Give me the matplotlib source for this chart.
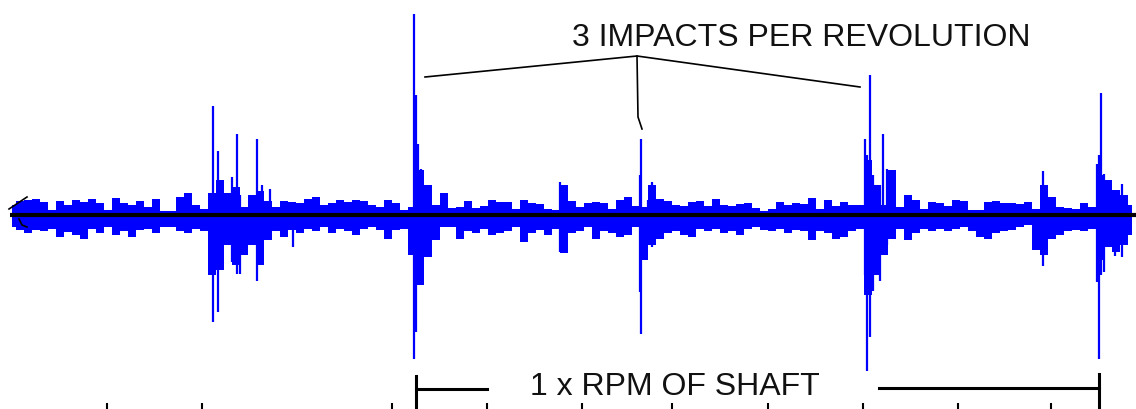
import matplotlib.pyplot as plt
import numpy as np

# waveform envelope, one value every 8 samples starting at sample 12
# (amplitude above / below the zero line)
start = 12
step = 8
env_up = [10, 14, 15, 16, 13, 5, 14, 10, 15, 13, 16, 12, 5, 17, 12, 10, 14, 8,
          16, 4, 4, 18, 22, 10, 6, 22, 35, 22, 28, 8, 20, 24, 14, 8, 14, 13,
          12, 16, 18, 10, 12, 15, 13, 15, 14, 10, 8, 15, 12, 5, 8, 45, 30, 10,
          22, 7, 8, 14, 7, 9, 15, 13, 13, 6, 15, 12, 11, 6, 5, 30, 14, 8, 12,
          13, 12, 6, 15, 18, 9, 8, 30, 16, 14, 10, 9, 13, 14, 9, 16, 10, 9, 11,
          12, 7, 4, 6, 13, 10, 12, 11, 17, 6, 15, 9, 13, 10, 10, 55, 30, 10,
          45, 8, 20, 15, 6, 13, 12, 9, 15, 14, 5, 5, 13, 14, 12, 12, 11, 13, 6,
          30, 18, 8, 7, 6, 12, 8, 40, 35, 25, 20, 10]
env_down = [12, 15, 18, 15, 16, 14, 22, 17, 20, 24, 14, 18, 12, 20, 16, 22, 15,
            14, 18, 12, 12, 16, 18, 14, 16, 60, 55, 30, 50, 40, 30, 50, 25, 16,
            22, 15, 18, 14, 16, 12, 18, 14, 16, 20, 14, 12, 15, 24, 15, 14, 40,
            70, 42, 25, 12, 12, 24, 16, 18, 14, 20, 18, 16, 12, 27, 18, 15, 20,
            14, 38, 18, 16, 12, 24, 16, 18, 22, 20, 12, 45, 30, 24, 18, 16, 20,
            22, 14, 16, 14, 18, 16, 20, 14, 12, 15, 16, 14, 18, 15, 16, 25, 16,
            18, 24, 22, 16, 14, 80, 60, 40, 24, 14, 25, 18, 14, 16, 14, 16, 14,
            12, 16, 22, 24, 18, 16, 15, 12, 10, 35, 40, 24, 20, 16, 15, 16, 14,
            45, 32, 37, 30, 20]

# impact spikes: sample, peak up, peak down
spike_x = [213, 218, 232, 237, 240, 257, 262, 270, 293,
           414, 416, 418, 421, 426, 429, 430, 560,
           640, 641, 648, 652,
           865, 867, 870, 873, 880, 883, 887, 893,
           1043, 1097, 1099, 1101, 1104, 1110, 1115, 1122]
spike_up = [109, 64, 38, 81, 20, 76, 30, 26, 10,
            201, 120, 71, 46, 29, 20, 23, 33,
            40, 76, 15, 33,
            76, 60, 140, 40, 30, 81, 46, 39,
            44, 51, 60, 122, 41, 33, 23, 31]
spike_down = [107, 97, 47, 59, 59, 66, 49, 15, 32,
              144, 117, 47, 30, 20, 42, 15, 37,
              77, 119, 24, 32,
              60, 156, 122, 76, 66, 40, 30, 24,
              51, 67, 144, 60, 57, 30, 41, 42]

ticks_x = [107, 202, 392, 487, 582, 672, 768, 863, 958, 1051]

x_env = start + step * np.arange(len(env_up))

fig = plt.figure(figsize=(11.36, 4.10), dpi=100)
ax = fig.add_axes([0, 0, 1, 1])
ax.set_xlim(0, 1136)
ax.set_ylim(-194, 216)
ax.axis('off')

blue = '#0000ff'
ax.fill_between(x_env, 0, env_up, step='mid', color=blue, lw=0)
ax.fill_between(x_env, 0, -np.array(env_down), step='mid', color=blue, lw=0)
ax.vlines(spike_x, 0, spike_up, color=blue, lw=1.6)
ax.vlines(spike_x, 0, -np.array(spike_down), color=blue, lw=1.6)

# zero line and start marker
ax.plot([10, 1136], [0, 0], color='black', lw=3, solid_capstyle='butt')
ax.plot([9, 18, 27], [6, 12, 18], color='black', lw=1.2)
ax.plot([19, 22, 27], [-4, -10, -12], color='black', lw=1.2)

# annotations
ax.text(801, 216 - 38, '3 IMPACTS PER REVOLUTION', ha='center', va='center',
        fontsize=23, family='Liberation Sans', color='#111111')
ax.plot([425, 637, 860], [216 - 78, 216 - 57, 216 - 88], color='black', lw=1.2)
ax.plot([637, 638, 642], [216 - 57, 216 - 118, 216 - 130], color='black', lw=1.2)

ax.text(675, 216 - 387, '1 x RPM OF SHAFT', ha='center', va='center',
        fontsize=23, family='Liberation Sans', color='#111111')
ax.plot([416, 416], [216 - 377, -194], color='black', lw=2.2)
ax.plot([416, 487], [216 - 390, 216 - 390], color='black', lw=2.2)
ax.plot([879, 1099], [216 - 389, 216 - 389], color='black', lw=2.2)
ax.plot([1099, 1099], [216 - 375, -194], color='black', lw=2.2)

ax.vlines(ticks_x, -194, 216 - 404, color='black', lw=1.5)

fig.savefig('out.png', dpi=100)
